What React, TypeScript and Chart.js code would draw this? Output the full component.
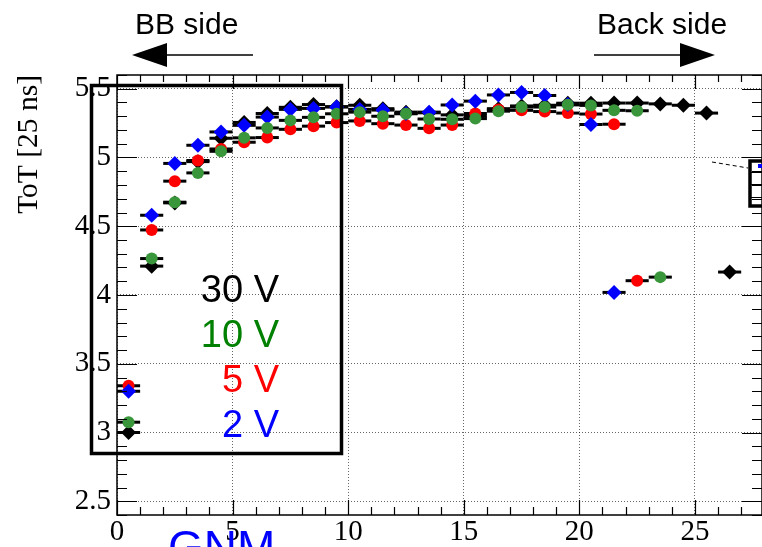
import React, { useEffect, useRef } from 'react';
import { Chart, registerables } from 'chart.js';

Chart.register(...registerables);

// ---- data ----
const binCenters = [0.5, 1.5, 2.5, 3.5, 4.5, 5.5, 6.5, 7.5, 8.5, 9.5, 10.5, 11.5, 12.5, 13.5, 14.5, 15.5, 16.5, 17.5, 18.5, 19.5, 20.5, 21.5, 22.5, 23.5, 24.5, 25.5, 26.5];
const binHalfWidth = 0.5;

const tot30V = [3.0, 4.21, 4.67, 4.97, 5.14, 5.255, 5.32, 5.365, 5.385, 5.37, 5.38, 5.355, 5.33, 5.325, 5.31, 5.3, 5.355, 5.375, 5.38, 5.395, 5.395, 5.396, 5.396, 5.39, 5.38, 5.323, 4.167];
const tot10V = [3.075, 4.265, 4.675, 4.888, 5.045, 5.143, 5.215, 5.27, 5.292, 5.318, 5.33, 5.3, 5.318, 5.28, 5.278, 5.283, 5.337, 5.367, 5.367, 5.383, 5.379, 5.343, 5.34, 4.13];
const tot5V = [3.34, 4.473, 4.828, 4.978, 5.062, 5.111, 5.145, 5.205, 5.228, 5.254, 5.266, 5.246, 5.236, 5.212, 5.236, 5.32, 5.35, 5.343, 5.334, 5.323, 5.316, 5.242, 4.104];
const tot2V = [3.3, 4.58, 4.957, 5.089, 5.186, 5.234, 5.294, 5.35, 5.357, 5.367, 5.35, 5.345, 5.32, 5.33, 5.382, 5.41, 5.455, 5.473, 5.451, 5.385, 5.24, 4.019];

const seriesLabels = ['30 V', '10 V', '5 V', '2 V'];
const markerColors = ['#000000', '#3a963a', '#ff0000', '#0000ff'];
const labelColors = ['#000000', '#008000', '#ff0000', '#0000ff'];
const markerShapes = ['rectRot', 'circle', 'circle', 'rectRot'];

const xTickValues = [0, 5, 10, 15, 20, 25];
const xTickLabels = ['0', '5', '10', '15', '20', '25'];
const yTickValues = [2.5, 3, 3.5, 4, 4.5, 5, 5.5];
const yTickLabels = ['2.5', '3', '3.5', '4', '4.5', '5', '5.5'];

const yAxisTitle = 'ToT [25 ns]';
const leftArrowText = 'BB side';
const rightArrowText = 'Back side';
const detectorText = 'GNM';

const X_MIN = 0;
const X_MAX = 27.9;
const Y_MIN = 2.4;
const Y_MAX = 5.6;

const toPoints = (vals: number[]) => vals.map((y, i) => ({ x: binCenters[i], y }));

const errorBarPlugin = {
  id: 'errorBars',
  beforeDatasetDraw(chart: any, args: any) {
    const { ctx, chartArea, scales } = chart;
    const ds = chart.data.datasets[args.index];
    ctx.save();
    ctx.beginPath();
    ctx.rect(chartArea.left, chartArea.top, chartArea.right - chartArea.left, chartArea.bottom - chartArea.top);
    ctx.clip();
    ctx.strokeStyle = '#000';
    ctx.lineWidth = 3;
    ctx.lineCap = 'butt';
    for (const p of ds.data) {
      const y = scales.y.getPixelForValue(p.y);
      const x0 = scales.x.getPixelForValue(p.x - binHalfWidth);
      const x1 = scales.x.getPixelForValue(p.x + binHalfWidth);
      ctx.beginPath();
      ctx.moveTo(x0, y);
      ctx.lineTo(x1, y);
      ctx.stroke();
    }
    ctx.restore();
  },
};

const overlayPlugin = {
  id: 'rootOverlay',
  afterDraw(chart: any) {
    const { ctx, chartArea, scales } = chart;
    const { left, right, top, bottom } = chartArea;
    const xs = scales.x;
    const ys = scales.y;
    ctx.save();

    // frame
    ctx.strokeStyle = '#000';
    ctx.lineWidth = 1.5;
    ctx.strokeRect(left, top, right - left, bottom - top);

    // y ticks (left & right)
    ctx.lineWidth = 1.2;
    for (let k = Math.ceil(Y_MIN * 10); k <= Math.floor(Y_MAX * 10); k++) {
      const v = k / 10;
      const y = Math.round(ys.getPixelForValue(v)) + 0.5;
      const major = k % 5 === 0;
      const len = major ? 20 : 10;
      ctx.beginPath();
      ctx.moveTo(left, y);
      ctx.lineTo(left + len, y);
      ctx.moveTo(right, y);
      ctx.lineTo(right - len, y);
      ctx.stroke();
    }
    // x ticks (bottom & top)
    for (let k = Math.ceil(X_MIN); k <= Math.floor(X_MAX); k++) {
      const x = Math.round(xs.getPixelForValue(k)) + 0.5;
      const major = k % 5 === 0;
      ctx.beginPath();
      ctx.moveTo(x, bottom);
      ctx.lineTo(x, bottom - (major ? 15 : 8));
      ctx.moveTo(x, top);
      ctx.lineTo(x, top + (major ? 14 : 7));
      ctx.stroke();
    }

    // legend box
    ctx.lineWidth = 3.5;
    ctx.strokeRect(91.5, 85.5, 250, 368);
    ctx.font = '38px "Liberation Sans", Arial, sans-serif';
    ctx.textAlign = 'right';
    ctx.textBaseline = 'alphabetic';
    const baselines = [302, 347, 392, 437];
    chart.data.datasets.forEach((ds: any, i: number) => {
      ctx.fillStyle = labelColors[i];
      ctx.fillText(ds.label, 279, baselines[i]);
    });

    // side arrows + text
    ctx.fillStyle = '#000';
    ctx.font = '30px "Liberation Sans", Arial, sans-serif';
    ctx.textAlign = 'left';
    ctx.fillText(leftArrowText, 135, 34);
    ctx.fillText(rightArrowText, 597, 34);
    ctx.lineWidth = 1.5;
    // left arrow
    ctx.beginPath();
    ctx.moveTo(165, 55);
    ctx.lineTo(253, 55);
    ctx.stroke();
    ctx.beginPath();
    ctx.moveTo(132, 55);
    ctx.lineTo(167, 43);
    ctx.lineTo(167, 67);
    ctx.closePath();
    ctx.fill();
    // right arrow
    ctx.beginPath();
    ctx.moveTo(594, 55);
    ctx.lineTo(682, 55);
    ctx.stroke();
    ctx.beginPath();
    ctx.moveTo(715, 55);
    ctx.lineTo(680, 43);
    ctx.lineTo(680, 67);
    ctx.closePath();
    ctx.fill();

    // small inset box at right edge
    ctx.setLineDash([4, 3]);
    ctx.lineWidth = 1;
    ctx.beginPath();
    ctx.moveTo(712, 162);
    ctx.lineTo(748, 168);
    ctx.stroke();
    ctx.setLineDash([]);
    ctx.lineWidth = 1;
    [172, 184, 197].forEach((yy) => {
      ctx.beginPath();
      ctx.moveTo(750, yy + 0.5);
      ctx.lineTo(762, yy + 0.5);
      ctx.stroke();
    });
    ctx.lineWidth = 3.5;
    ctx.strokeRect(750, 161, 30, 45);
    ctx.fillStyle = '#0000ff';
    ctx.fillRect(758, 164, 4, 4);

    // detector label
    ctx.fillStyle = '#0000ff';
    ctx.font = '46px "Liberation Sans", Arial, sans-serif';
    ctx.textAlign = 'left';
    ctx.fillText(detectorText, 168, 563);

    ctx.restore();
  },
};

export default function App() {
  const canvasRef = useRef<HTMLCanvasElement>(null);

  useEffect(() => {
    const canvas = canvasRef.current;
    if (!canvas) return;
    const seriesValues = [tot30V, tot10V, tot5V, tot2V];
    const drawOrder = [3, 0, 2, 1];
    const chart = new Chart(canvas, {
      type: 'scatter',
      data: {
        datasets: seriesValues.map((vals, i) => ({
          label: seriesLabels[i],
          data: toPoints(vals),
          showLine: false,
          order: drawOrder[i],
          pointStyle: markerShapes[i],
          pointRadius: markerShapes[i] === 'rectRot' ? 7.5 : 6,
          pointBackgroundColor: markerColors[i],
          pointBorderColor: markerColors[i],
          pointBorderWidth: 0,
        })),
      },
      options: {
        animation: false,
        responsive: false,
        devicePixelRatio: 1,
        layout: { padding: { top: 75, left: 0, right: 0, bottom: 0 }, autoPadding: false },
        plugins: { legend: { display: false }, tooltip: { enabled: false } },
        scales: {
          x: {
            type: 'linear',
            min: X_MIN,
            max: X_MAX,
            afterBuildTicks: (s: any) => {
              s.ticks = xTickValues.map((v) => ({ value: v }));
            },
            afterFit: (s: any) => {
              s.height = 32;
            },
            ticks: {
              autoSkip: false,
              maxRotation: 0,
              padding: 0,
              color: '#000',
              font: { family: '"Liberation Serif", "Times New Roman", serif', size: 29 },
              callback: (v: any) => xTickLabels[xTickValues.indexOf(Number(v))] ?? '',
            },
            grid: { color: 'rgba(0,0,0,0.6)', lineWidth: 1, drawTicks: false },
            border: { display: false, dash: [1, 2] },
          },
          y: {
            type: 'linear',
            min: Y_MIN,
            max: Y_MAX,
            afterBuildTicks: (s: any) => {
              s.ticks = yTickValues.map((v) => ({ value: v }));
            },
            afterFit: (s: any) => {
              s.width = 117;
            },
            ticks: {
              autoSkip: false,
              padding: 6,
              color: '#000',
              font: { family: '"Liberation Serif", "Times New Roman", serif', size: 29 },
              callback: (v: any) => yTickLabels[yTickValues.indexOf(Number(v))] ?? '',
            },
            grid: { color: 'rgba(0,0,0,0.6)', lineWidth: 1, drawTicks: false },
            border: { display: false, dash: [1, 2] },
            title: {
              display: true,
              text: yAxisTitle,
              align: 'end',
              color: '#000',
              font: { family: '"Liberation Serif", "Times New Roman", serif', size: 29.5 },
              padding: { top: 12, bottom: 0 },
            },
          },
        },
      },
      plugins: [errorBarPlugin, overlayPlugin],
    } as any);
    return () => chart.destroy();
  }, []);

  return (
    <div style={{ position: 'fixed', left: 0, top: 0, width: 762, height: 547, background: '#fff', overflow: 'hidden' }}>
      <canvas ref={canvasRef} width={762} height={547} style={{ display: 'block', width: 762, height: 547 }} />
    </div>
  );
}
